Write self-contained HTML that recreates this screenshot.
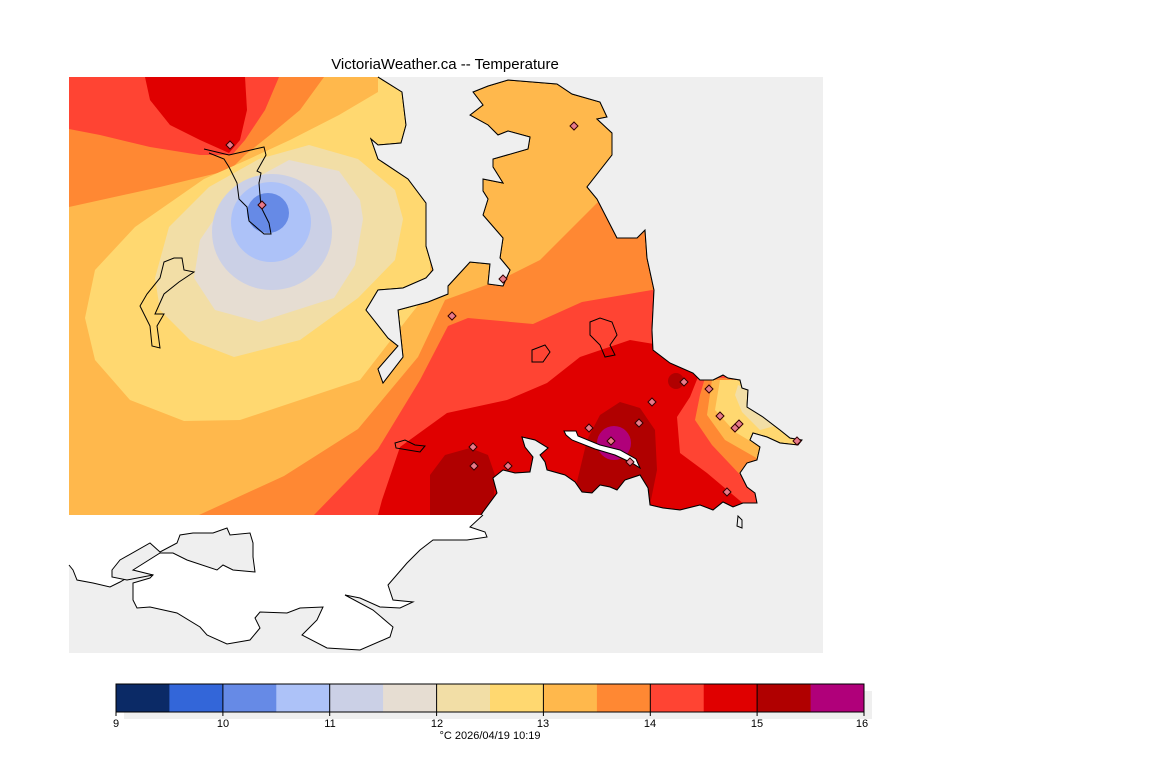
<!DOCTYPE html>
<html><head><meta charset="utf-8"><style>
html,body{margin:0;padding:0;background:#fff;}
svg{display:block;font-family:"Liberation Sans",sans-serif;}
</style></head><body>
<svg width="1152" height="768" viewBox="0 0 1152 768" xmlns="http://www.w3.org/2000/svg">
<defs><clipPath id="c"><rect x="69" y="77" width="754" height="438"/></clipPath></defs>
<text x="445" y="69" font-size="15" text-anchor="middle" fill="#000">VictoriaWeather.ca -- Temperature</text>
<rect x="69" y="77" width="754" height="576" fill="#efefef"/>
<g clip-path="url(#c)">
<rect x="69" y="77" width="754" height="438" fill="#ffb84c"/>
<path d="M69,77L324,77L300,110L270,135L245,155L230,170L160,187L69,207Z" fill="#ff8833"/>
<path d="M69,77L279,77L265,110L245,140L232,155L200,155L150,147L100,135L69,129Z" fill="#ff4433"/>
<path d="M145,77L150,100L170,125L200,140L229,153L240,140L247,110L245,77Z" fill="#e00000"/>
<path d="M378,77L410,77L430,200L430,290L408,318L360,380L309,397L240,420L184,421L130,400L95,360L85,318L95,270L135,227L204,179L249,159L290,140L339,115L378,92Z" fill="#ffd870"/>
<path d="M155,278L169,227L209,187L259,159L309,145L358,159L395,190L403,219L395,260L358,298L300,340L234,357L190,340L160,310Z" fill="#f2dea6"/>
<path d="M194,278L200,240L234,190L289,160L339,171L360,200L363,219L355,265L334,298L259,322L215,310Z" fill="#e6ddd2"/>
<ellipse cx="272" cy="232" rx="60" ry="58" fill="#cbd0e6"/>
<ellipse cx="271" cy="222" rx="40" ry="40" fill="#adc2f8"/>
<ellipse cx="268" cy="213" rx="21" ry="20" fill="#668ae6"/>
<path d="M199,515L284,476L358,429L418,357L445,300L500,280L540,260L570,230L600,200L660,200L823,200L823,515Z" fill="#ff8833"/>
<path d="M314,515L378,449L420,380L448,326L468,318L533,324L582,302L652,290L823,290L823,515Z" fill="#ff4433"/>
<path d="M378,515L382,500L400,447L447,413L507,400L547,383L580,357L630,340L660,345L700,372L690,397L677,417L680,453L707,473L745,505L760,515Z" fill="#e00000"/>
<path d="M705,378L823,378L823,490L745,480L712,445L695,420L700,395Z" fill="#ff8833"/>
<path d="M712,380L823,380L823,470L760,460L725,440L707,415Z" fill="#ffb84c"/>
<path d="M720,380L823,380L823,455L765,450L735,432L715,410Z" fill="#ffd870"/>
<path d="M738,385L760,395L778,425L760,430L742,412L735,395Z" fill="#f2dea6"/>
<path d="M430,515L430,475L445,455L470,448L488,455L495,475L493,515Z" fill="#b00000"/>
<path d="M575,490L587,440L600,415L620,402L640,408L655,430L657,470L650,505L600,505Z" fill="#b00000"/>
<circle cx="676" cy="381" r="8" fill="#b00000"/>
<ellipse cx="614" cy="443" rx="17" ry="17" fill="#b0007a"/>
</g>
<!-- sea -->
<path id="coast" d="M378,77L402,92L406,125L401,143L378,145L371,139L378,159L408,179L426,203L426,246L433,270L426,278L403,288L378,290L366,310L388,338L398,346L378,369L383,383L403,357L398,310L428,302L448,294L448,286L470,262L490,264L488,284L503,286L510,270L500,258L503,238L483,215L488,199L483,191L483,179L503,183L493,167L493,159L528,149L530,137L508,131L498,135L488,125L470,115L483,105L473,92L488,86L508,80L557,84L572,94L600,102L607,117L597,119L612,133L612,155L587,187L597,199L617,238L637,238L645,230L647,258L654,290L652,330L653,350L670,363L693,373L700,380L713,380L723,375L728,378L740,380L742,388L748,390L747,407L763,417L780,430L790,438L802,440L798,445L780,443L767,437L753,433L750,440L760,447L757,460L747,463L740,473L747,487L755,493L757,503L743,503L733,507L723,502L713,510L700,505L680,510L663,508L650,505L648,488L640,475L625,480L617,490L610,487L600,485L592,493L582,492L575,482L565,475L547,470L545,462L540,455L548,448L535,440L522,437L525,447L533,457L530,472L515,473L503,470L493,478L497,493L483,512L481,515" fill="none" stroke="#000" stroke-width="1"/>
<path d="M378,77L402,92L406,125L401,143L378,145L371,139L378,159L408,179L426,203L426,246L433,270L426,278L403,288L378,290L366,310L388,338L398,346L378,369L383,383L403,357L398,310L428,302L448,294L448,286L470,262L490,264L488,284L503,286L510,270L500,258L503,238L483,215L488,199L483,191L483,179L503,183L493,167L493,159L528,149L530,137L508,131L498,135L488,125L470,115L483,105L473,92L488,86L508,80L557,84L572,94L600,102L607,117L597,119L612,133L612,155L587,187L597,199L617,238L637,238L645,230L647,258L654,290L652,330L653,350L670,363L693,373L700,380L713,380L723,375L728,378L740,380L742,388L748,390L747,407L763,417L780,430L790,438L802,440L798,445L780,443L767,437L753,433L750,440L760,447L757,460L747,463L740,473L747,487L755,493L757,503L743,503L733,507L723,502L713,510L700,505L680,510L663,508L650,505L648,488L640,475L625,480L617,490L610,487L600,485L592,493L582,492L575,482L565,475L547,470L545,462L540,455L548,448L535,440L522,437L525,447L533,457L530,472L515,473L503,470L493,478L497,493L483,512L481,516L823,516L823,77Z" fill="#efefef"/>
<use href="#coast"/>
<path d="M564,431L576,431L578,436L600,445L620,450L636,459L640,468L632,463L615,455L595,449L572,440L566,435Z" fill="#fff" stroke="#000" stroke-width="1"/>
<path d="M738,516L742,520L742,528L737,526Z" fill="none" stroke="#000"/>
<!-- lower white land -->
<path d="M69,515L483,515L470,527L485,532L487,537L467,540L433,540L420,550L407,563L388,585L393,600L413,602L400,608L380,607L360,598L345,595L373,610L393,627L390,637L360,650L327,648L302,635L307,630L317,620L323,607L300,608L287,613L260,612L255,618L260,628L250,640L227,644L207,635L200,627L177,613L150,607L137,608L133,600L133,583L150,578L153,575L137,572L120,582L110,587L93,583L77,580L73,570L69,565Z" fill="#fff"/>
<path d="M483,515L470,527L485,532L487,537L467,540L433,540L420,550L407,563L388,585L393,600L413,602L400,608L380,607L360,598L345,595L373,610L393,627L390,637L360,650L327,648L302,635L307,630L317,620L323,607L300,608L287,613L260,612L255,618L260,628L250,640L227,644L207,635L200,627L177,613L150,607L137,608L133,600L133,583L150,578L153,575L137,572L120,582L110,587L93,583L77,580L73,570L69,565" fill="none" stroke="#000" stroke-width="1"/>
<path d="M112,570L120,560L150,543L160,552L177,543L180,535L193,533L213,533L227,528L230,535L250,533L253,543L253,557L255,572L233,570L223,565L217,570L187,560L173,553L160,553L133,570L153,575L127,580L112,577Z" fill="#efefef" stroke="#000" stroke-width="1"/>
<!-- coast lines on land -->
<path d="M182,258L184,270L194,272L179,282L164,294L155,314L164,314L157,326L160,348L152,346L150,326L140,306L147,294L160,278L164,262L174,258Z" fill="none" stroke="#000"/>
<path d="M204,149L229,155L264,147L266,155L257,171L261,173L259,183L261,207L269,223L271,234L264,234L249,221L247,207L239,199L237,183L229,167L224,159L209,153" fill="none" stroke="#000"/>
<path d="M590,322L600,318L612,322L617,335L610,345L615,355L605,357L600,345L590,335Z" fill="none" stroke="#000"/>
<path d="M532,350L545,345L550,352L543,362L532,362Z" fill="none" stroke="#000"/>
<path d="M395,443L405,440L415,445L425,446L420,452L408,450L396,448Z" fill="none" stroke="#000"/>
<!-- stations -->
<g fill="#e87a8a" stroke="#300" stroke-width="1">
<path d="M230,141l4,4l-4,4l-4,-4z"/><path d="M262,201l4,4l-4,4l-4,-4z"/><path d="M574,122l4,4l-4,4l-4,-4z"/>
<path d="M503,275l4,4l-4,4l-4,-4z"/><path d="M452,312l4,4l-4,4l-4,-4z"/><path d="M473,443l4,4l-4,4l-4,-4z"/>
<path d="M474,462l4,4l-4,4l-4,-4z"/><path d="M508,462l4,4l-4,4l-4,-4z"/><path d="M589,424l4,4l-4,4l-4,-4z"/>
<path d="M611,437l4,4l-4,4l-4,-4z"/><path d="M639,419l4,4l-4,4l-4,-4z"/><path d="M652,398l4,4l-4,4l-4,-4z"/>
<path d="M684,378l4,4l-4,4l-4,-4z"/><path d="M709,385l4,4l-4,4l-4,-4z"/><path d="M720,412l4,4l-4,4l-4,-4z"/>
<path d="M735,424l4,4l-4,4l-4,-4z"/><path d="M739,420l4,4l-4,4l-4,-4z"/><path d="M727,488l4,4l-4,4l-4,-4z"/>
<path d="M797,437l4,4l-4,4l-4,-4z"/><path d="M630,458l4,4l-4,4l-4,-4z"/>
</g>
<!-- colorbar -->
<rect x="124" y="691" width="748" height="28" fill="#efefef"/>
<g>
<rect x="116" y="684" width="54" height="28" fill="#0b2a66"/>
<rect x="169.4" y="684" width="54" height="28" fill="#3366d9"/>
<rect x="222.9" y="684" width="54" height="28" fill="#668ae6"/>
<rect x="276.3" y="684" width="54" height="28" fill="#adc2f8"/>
<rect x="329.7" y="684" width="54" height="28" fill="#cbd0e6"/>
<rect x="383.1" y="684" width="54" height="28" fill="#e6ddd2"/>
<rect x="436.6" y="684" width="54" height="28" fill="#f2dea6"/>
<rect x="490" y="684" width="54" height="28" fill="#ffd870"/>
<rect x="543.4" y="684" width="54" height="28" fill="#ffb84c"/>
<rect x="596.9" y="684" width="54" height="28" fill="#ff8833"/>
<rect x="650.3" y="684" width="54" height="28" fill="#ff4433"/>
<rect x="703.7" y="684" width="54" height="28" fill="#e00000"/>
<rect x="757.1" y="684" width="54" height="28" fill="#b00000"/>
<rect x="810.6" y="684" width="53.4" height="28" fill="#b0007a"/>
</g>
<rect x="116" y="684" width="748" height="28" fill="none" stroke="#000" stroke-width="1"/>
<g stroke="#000" stroke-width="1">
<line x1="222.9" y1="684" x2="222.9" y2="716"/><line x1="329.7" y1="684" x2="329.7" y2="716"/>
<line x1="436.6" y1="684" x2="436.6" y2="716"/><line x1="543.4" y1="684" x2="543.4" y2="716"/>
<line x1="650.3" y1="684" x2="650.3" y2="716"/><line x1="757.1" y1="684" x2="757.1" y2="716"/>
<line x1="116" y1="684" x2="116" y2="716"/><line x1="864" y1="684" x2="864" y2="716"/>
</g>
<g font-size="11" text-anchor="middle" fill="#000">
<text x="116" y="727">9</text><text x="223" y="727">10</text><text x="330" y="727">11</text>
<text x="437" y="727">12</text><text x="543" y="727">13</text><text x="650" y="727">14</text>
<text x="757" y="727">15</text><text x="862" y="727">16</text>
<text x="490" y="739">°C  2026/04/19 10:19</text>
</g>
</svg>
</body></html>
